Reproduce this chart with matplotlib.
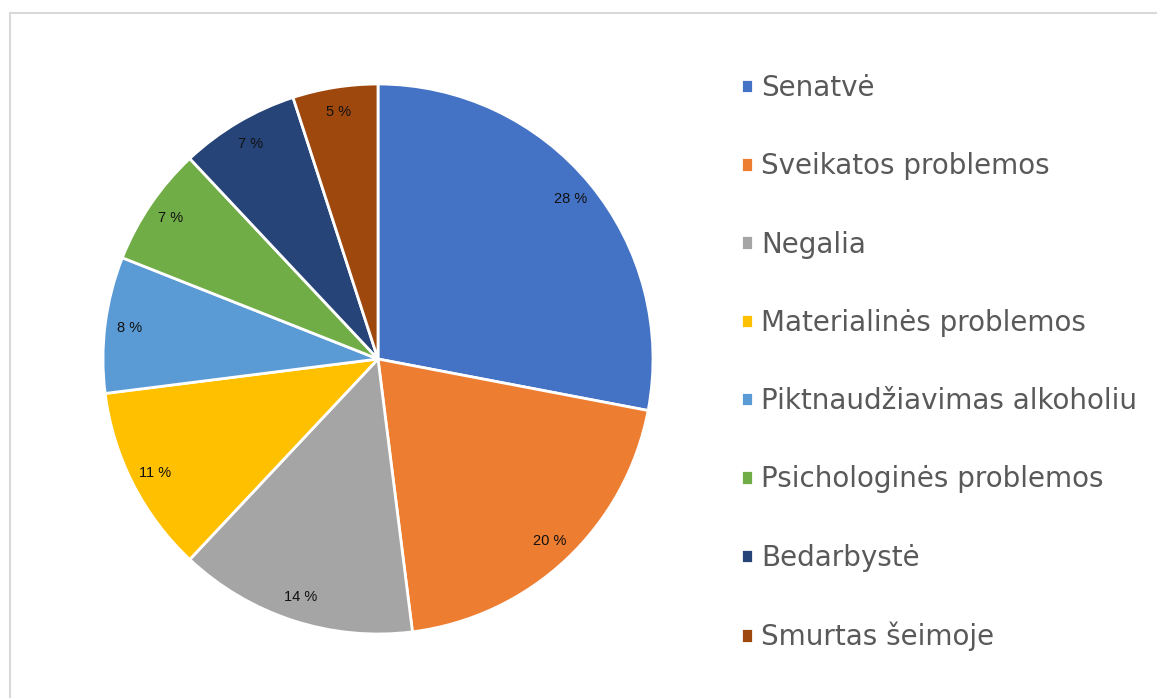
import matplotlib
matplotlib.use("Agg")
import matplotlib.pyplot as plt
from matplotlib.patches import Rectangle

# data
categories = ["Senatvė", "Sveikatos problemos", "Negalia", "Materialinės problemos",
              "Piktnaudžiavimas alkoholiu", "Psichologinės problemos", "Bedarbystė",
              "Smurtas šeimoje"]
shares = [28, 20, 14, 11, 8, 7, 7, 5]
colors = ["#4472C4", "#ED7D31", "#A5A5A5", "#FFC000", "#5B9BD5", "#70AD47", "#264478", "#9E480E"]

W, H = 1157, 698
fig = plt.figure(figsize=(W / 100, H / 100), dpi=100)

# light grey frame, cut by the right and bottom edges
fig.patches.append(Rectangle((10 / W, -0.1), 1.2, 1 - 13 / H + 0.1, transform=fig.transFigure,
                             fill=False, edgecolor="#D9D9D9", linewidth=1.5))

# pie axes: centre (378, 359) px, radius 275 px
ax = fig.add_axes([103 / W, (H - 634) / H, 550 / W, 550 / H])
wedges, texts, autotexts = ax.pie(shares, colors=colors, startangle=90, counterclock=False,
                                  autopct=lambda p: "%d %%" % round(p), pctdistance=0.91,
                                  wedgeprops=dict(edgecolor="white", linewidth=2),
                                  textprops=dict(fontsize=10.5, color="#111111",
                                                 family="Liberation Sans"))
ax.set_xlim(-1, 1)
ax.set_ylim(-1, 1)
for w in wedges:
    w.set_clip_on(False)

leg = fig.legend(wedges, categories, loc="upper left", bbox_to_anchor=(741 / W, 1 - 74 / H),
                 frameon=False, fontsize=20, labelcolor="#595959",
                 handlelength=0.42, handleheight=0.42, handletextpad=0.3,
                 labelspacing=1.81, borderpad=0, borderaxespad=0)

fig.savefig("out.png", dpi=100)
